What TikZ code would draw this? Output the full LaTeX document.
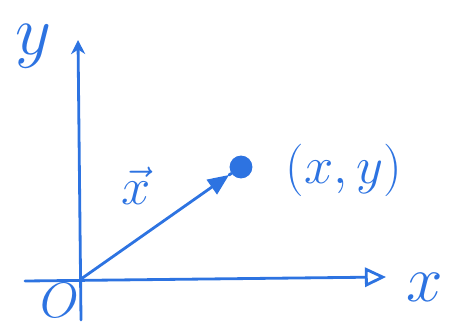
\documentclass[tikz,border=0pt]{standalone}
\usepackage{tikz}
\usetikzlibrary{arrows.meta}
\definecolor{pen}{RGB}{45,115,225}

\begin{document}
\begin{tikzpicture}[x=0.02cm, y=-0.02cm,
  every node/.style={inner sep=1pt, color=pen},
  lbl/.style={font=\Huge, scale=1.2},
  biglbl/.style={font=\Huge, scale=1.6},
  axis/.style={pen, line width=1.6pt, line cap=round},
  vec/.style={pen, line width=1.6pt, line cap=round}]
\useasboundingbox (0,0) rectangle (452,325);
% axes
\coordinate (xs) at (25,281);
\coordinate (xe) at (386,277);
\coordinate (ys) at (81,320);
\coordinate (ye) at (78,40);
\coordinate (O) at (81,279);
\draw[axis, -{Triangle[open, length=12pt, width=11pt]}] (xs) -- (xe);
\draw[axis, -{Stealth[length=8pt, width=8pt]}] (ys) -- (ye);
% point and vector
\node[circle, fill=pen, minimum size=13pt, inner sep=0pt] (P) at (241,167) {};
\coordinate (tip) at (229,175);
\draw[vec, -{Triangle[length=12pt, width=10pt]}] (O) -- (tip);
\draw[vec] (tip) -- (P);
% labels
\node[biglbl] (ylab) at (33,46) {$y$};
\node[lbl, scale=1.25] (xlab) at (425,287) {$x$};
\node[lbl, scale=0.95] (olab) at (60,300) {$O$};
\node[lbl] (vlab) at (136,186) {$\vec{x}$};
\node[lbl] (plab) at (344,170) {$(x,y)$};
\end{tikzpicture}
\end{document}
